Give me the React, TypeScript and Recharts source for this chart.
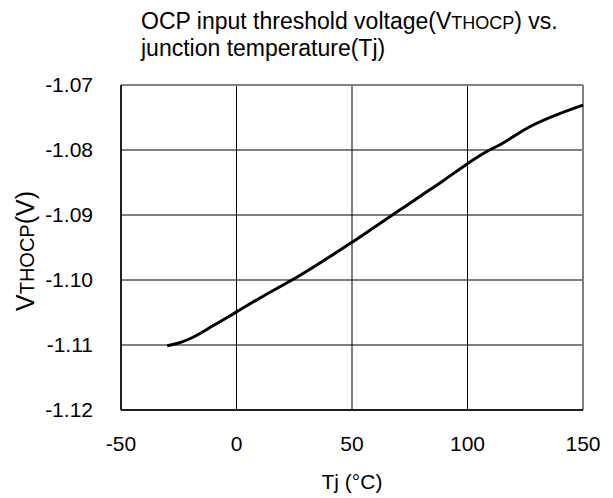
import React from "react";
import { LineChart, Line, XAxis, YAxis, CartesianGrid, ReferenceLine } from "recharts";

const temperatures = [-30, -25, -20, -10, 0, 10, 20, 25, 40, 50, 60, 70, 80, 90, 100, 107, 115, 125, 150];
const voltages = [-1.1101, -1.1097, -1.109, -1.107, -1.1049, -1.1028, -1.1008, -1.0998, -1.0965, -1.0942, -1.0918, -1.0894, -1.087, -1.0846, -1.0821, -1.0805, -1.079, -1.0768, -1.0731];
const xTicks = [-50, 0, 50, 100, 150];
const yTicks = [-1.12, -1.11, -1.1, -1.09, -1.08, -1.07];

const data = temperatures.map((t, i) => ({ t, v: voltages[i] }));

const FONT = "'Liberation Sans', Arial, sans-serif";

const YLabel = () => (
  <text
    transform="rotate(-90, 34, 251)"
    x={34}
    y={251}
    textAnchor="middle"
    fontFamily={FONT}
    fill="#000"
  >
    <tspan fontSize={25}>V</tspan>
    <tspan fontSize={20}>THOCP</tspan>
    <tspan fontSize={25}>(V)</tspan>
  </text>
);

const XLabel = () => (
  <text x={352} y={489} textAnchor="middle" fontFamily={FONT} fontSize={21} fill="#000">
    Tj (°C)
  </text>
);

export default function App() {
  return (
    <div style={{ position: "absolute", left: 0, top: 0, width: 613, height: 498, background: "#fff" }}>
      <div
        style={{
          position: "absolute",
          left: 141,
          top: 9,
          fontFamily: FONT,
          fontSize: 23,
          lineHeight: "25px",
          color: "#000",
          whiteSpace: "nowrap",
        }}
      >
        <div>
          OCP input threshold voltage(V<span style={{ fontSize: 18 }}>THOCP</span>) vs.
        </div>
        <div>junction temperature(Tj)</div>
      </div>
      <div style={{ position: "absolute", left: 0, top: 0 }}>
        <LineChart width={613} height={498} data={data} margin={{ top: 85, right: 30, bottom: 28, left: 0 }}>
          <CartesianGrid stroke="#000" strokeWidth={1} />
          <XAxis
            dataKey="t"
            type="number"
            domain={[-50, 150]}
            ticks={xTicks}
            height={60}
            tickSize={0}
            tickMargin={26}
            axisLine={{ stroke: "#000", strokeWidth: 1.5 }}
            tick={{ fill: "#000", fontSize: 21, fontFamily: FONT }}
            label={<XLabel />}
          />
          <YAxis
            type="number"
            domain={[-1.12, -1.07]}
            ticks={yTicks}
            width={121}
            tickSize={0}
            tickMargin={28}
            tickFormatter={(v: number) => v.toFixed(2)}
            axisLine={{ stroke: "#000", strokeWidth: 1.5 }}
            tick={{ fill: "#000", fontSize: 21, fontFamily: FONT }}
            label={<YLabel />}
          />
          <ReferenceLine y={-1.07} stroke="#808080" strokeWidth={2} />
          <ReferenceLine x={150} stroke="#808080" strokeWidth={2} />
          <Line
            type="monotone"
            dataKey="v"
            stroke="#000"
            strokeWidth={3}
            dot={false}
            isAnimationActive={false}
          />
        </LineChart>
      </div>
    </div>
  );
}
